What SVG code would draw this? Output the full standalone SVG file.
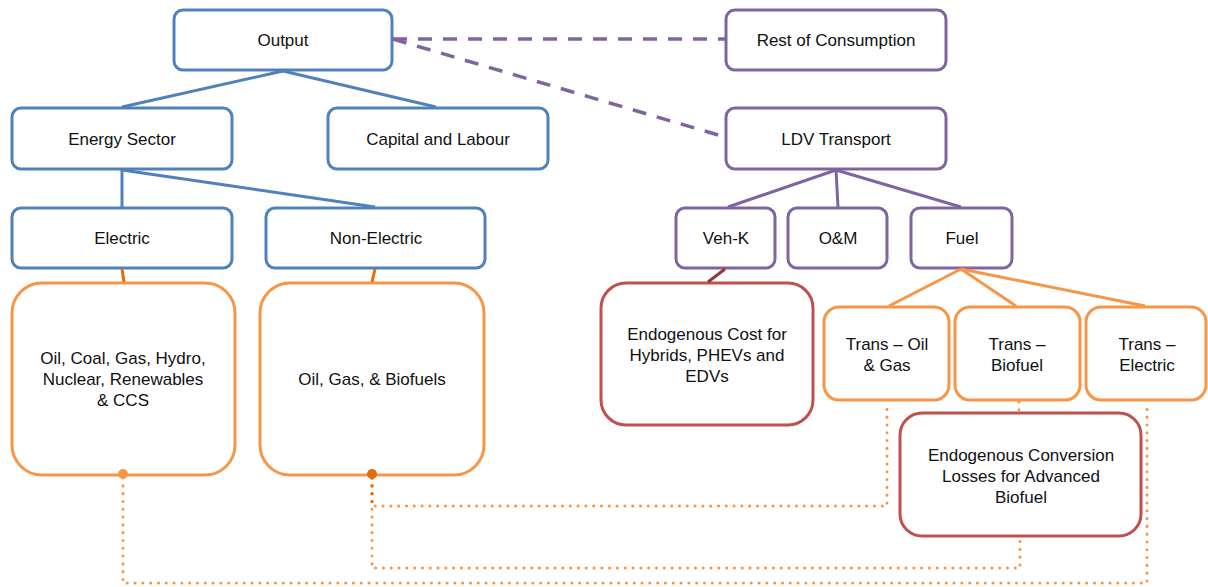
<svg xmlns="http://www.w3.org/2000/svg" width="1208" height="587" viewBox="0 0 1208 587">
<style>
text{font-family:"Liberation Sans",Arial,sans-serif;font-size:17px;fill:#111;text-anchor:middle}
.b{fill:#fff;stroke:#4F81BD;stroke-width:3}
.p{fill:#fff;stroke:#8064A2;stroke-width:3}
.o{fill:#fff;stroke:#F79646;stroke-width:3}
.r{fill:#fff;stroke:#C0504D;stroke-width:3}
.lb{stroke:#4F81BD;stroke-width:3;fill:none}
.lp{stroke:#8064A2;stroke-width:3;fill:none}
.lo{stroke:#F79646;stroke-width:3;fill:none}
.ld{stroke:#8064A2;stroke-width:3.5;fill:none;stroke-dasharray:14 11}
.dot{stroke:#F79646;stroke-width:3;fill:none;stroke-linecap:round;stroke-dasharray:0.1 7.7}
</style>
<rect width="1208" height="587" fill="#fff"/>
<g id="output"><rect class="b" x="174" y="10" width="218" height="60" rx="9"/><text x="283" y="46">Output</text></g>
<g id="rest-of-consumption"><rect class="p" x="726" y="10" width="220" height="60" rx="9"/><text x="836" y="46">Rest of Consumption</text></g>
<g id="energy-sector"><rect class="b" x="12" y="108" width="220" height="61" rx="9"/><text x="122" y="145">Energy Sector</text></g>
<g id="capital-labour"><rect class="b" x="328" y="108" width="220" height="61" rx="9"/><text x="438" y="145">Capital and Labour</text></g>
<g id="ldv-transport"><rect class="p" x="726" y="108" width="220" height="61" rx="9"/><text x="836" y="145">LDV Transport</text></g>
<g id="electric"><rect class="b" x="12" y="208" width="220" height="60" rx="9"/><text x="122" y="244">Electric</text></g>
<g id="non-electric"><rect class="b" x="266" y="208" width="219" height="60" rx="9"/><text x="376" y="244">Non-Electric</text></g>
<g id="veh-k"><rect class="p" x="676" y="208" width="99" height="60" rx="9"/><text x="726" y="244">Veh-K</text></g>
<g id="om"><rect class="p" x="788" y="208" width="99" height="60" rx="9"/><text x="838" y="244">O&amp;M</text></g>
<g id="fuel"><rect class="p" x="911" y="208" width="101" height="60" rx="9"/><text x="962" y="244">Fuel</text></g>
<g id="electric-sources"><rect class="o" x="12" y="283" width="223" height="192" rx="30"/><text x="123" y="364">Oil, Coal, Gas, Hydro,</text><text x="123" y="385">Nuclear, Renewables</text><text x="123" y="406">&amp; CCS</text></g>
<g id="non-electric-sources"><rect class="o" x="260" y="283" width="224" height="192" rx="30"/><text x="372" y="385">Oil, Gas, &amp; Biofuels</text></g>
<g id="endogenous-cost"><rect class="r" x="601" y="283" width="212" height="142" rx="25"/><text x="707" y="340">Endogenous Cost for</text><text x="707" y="361">Hybrids, PHEVs and</text><text x="707" y="382">EDVs</text></g>
<g id="trans-oil-gas"><rect class="o" x="824" y="307" width="125" height="93" rx="15"/><text x="887" y="350">Trans – Oil</text><text x="887" y="371">&amp; Gas</text></g>
<g id="trans-biofuel"><rect class="o" x="955" y="307" width="125" height="93" rx="15"/><text x="1017" y="350">Trans –</text><text x="1017" y="371">Biofuel</text></g>
<g id="trans-electric"><rect class="o" x="1086" y="307" width="120" height="93" rx="15"/><text x="1147" y="350">Trans –</text><text x="1147" y="371">Electric</text></g>
<g id="endogenous-conversion"><rect class="r" x="900" y="413" width="241" height="123" rx="22"/><text x="1021" y="461">Endogenous Conversion</text><text x="1021" y="482">Losses for Advanced</text><text x="1021" y="503">Biofuel</text></g>
<g id="connectors">
<line class="lb" x1="283" y1="71" x2="122" y2="107"/>
<line class="lb" x1="283" y1="71" x2="436" y2="107"/>
<line class="lb" x1="122" y1="170" x2="122" y2="207"/>
<line class="lb" x1="122" y1="170" x2="375" y2="207"/>
<line class="ld" x1="393" y1="39" x2="725" y2="39"/>
<line class="ld" x1="393" y1="39" x2="725" y2="137"/>
<line class="lp" x1="836" y1="170" x2="728" y2="207"/>
<line class="lp" x1="836" y1="170" x2="838" y2="207"/>
<line class="lp" x1="836" y1="170" x2="961" y2="207"/>
<line stroke="#E46C0A" stroke-width="3" x1="122" y1="269" x2="124" y2="282"/>
<line stroke="#E46C0A" stroke-width="3" x1="375" y1="269" x2="372" y2="282"/>
<line stroke="#953735" stroke-width="3" x1="725" y1="269" x2="708" y2="282"/>
<line class="lo" x1="961" y1="269" x2="889" y2="306"/>
<line class="lo" x1="961" y1="269" x2="1016" y2="306"/>
<line class="lo" x1="961" y1="269" x2="1145" y2="306"/>
<polyline class="dot" points="123,478 123,583 1147,583 1147,402"/>
<polyline class="dot" points="372,478 372,506 887,506 887,402"/>
<polyline class="dot" points="372,478 372,568 1020,568 1020,538"/>
<polyline class="dot" points="1019,402 1019,411"/>
<polyline class="dot" style="stroke:#E46C0A" points="372,478 372,506"/>
<circle cx="123" cy="474" r="5" fill="#F79646"/>
<circle cx="372" cy="474" r="5" fill="#E46C0A"/>
</g>
</svg>
